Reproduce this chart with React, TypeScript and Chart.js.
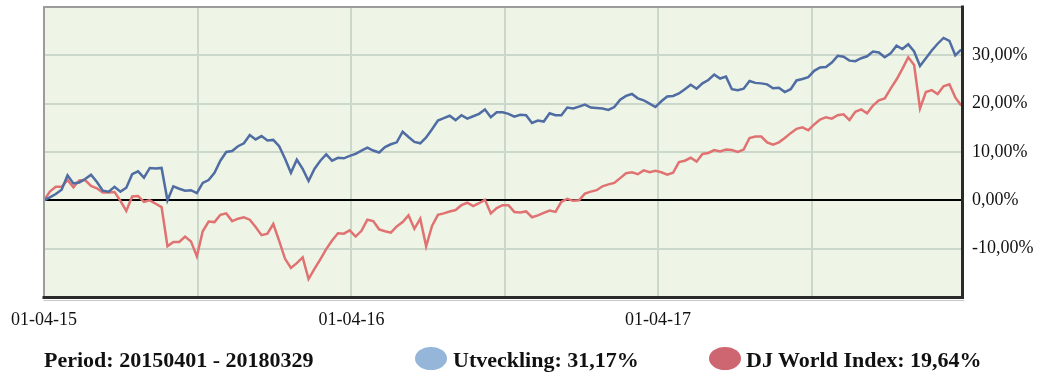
import React, { useEffect, useRef } from 'react';
import { Chart, registerables } from 'chart.js';

Chart.register(...registerables);

// ---- data ----
const END_DAY = 1093; // 2015-04-01 .. 2018-03-29
const WEEK_DAYS = 7;
const gridDays = [0, 183, 366, 549, 731, 914];
const xTickLabels: Record<number, string> = { 0: '01-04-15', 366: '01-04-16', 731: '01-04-17' };
const yTicks = [-20, -10, 0, 10, 20, 30, 40];
const hiddenYTicks = [-20, 40];

const utveckling = [
  0, 0.6, 1.3, 2.2, 5.2, 3.5, 3.7, 4.4, 5.3, 3.8,
  2.0, 1.8, 2.8, 1.8, 2.6, 5.4, 6.0, 4.7, 6.7, 6.6,
  6.7, 0.0, 2.9, 2.4, 2.0, 2.1, 1.5, 3.6, 4.2, 5.7,
  8.2, 10.0, 10.2, 11.2, 11.8, 13.5, 12.6, 13.3, 12.4, 12.5,
  11.2, 8.6, 5.7, 8.4, 6.5, 4.0, 6.5, 8.2, 9.5, 8.2,
  8.8, 8.7, 9.2, 9.6, 10.3, 10.9, 10.3, 9.9, 11.0, 11.6,
  12.0, 14.2, 13.1, 12.1, 11.8, 13.0, 14.7, 16.5, 17.0, 17.5,
  16.6, 17.6, 16.9, 17.4, 17.9, 18.8, 17.2, 18.2, 18.2, 17.9,
  17.3, 17.7, 17.6, 16.0, 16.5, 16.3, 18.0, 17.6, 17.6, 19.2,
  19.0, 19.4, 19.8, 19.2, 19.1, 19.0, 18.7, 19.3, 20.8, 21.6,
  22.0, 21.1, 20.7, 20.0, 19.3, 20.5, 21.5, 21.6, 22.1, 23.0,
  23.9, 23.1, 24.2, 24.9, 26.0, 25.2, 25.6, 23.0, 22.8, 23.1,
  24.7, 24.3, 24.2, 24.0, 23.2, 23.3, 22.4, 23.0, 24.8, 25.1,
  25.5, 26.8, 27.5, 27.6, 28.5, 29.9, 29.7, 28.9, 28.8, 29.4,
  29.8, 30.8, 30.6, 29.6, 30.4, 32.0, 31.3, 32.3, 30.8, 27.8,
  29.4, 31.0, 32.4, 33.6, 33.0, 30.0, 31.17,
];

const djWorld = [
  0, 1.8, 2.8, 2.8, 4.2, 2.7, 4.1, 4.2, 3.0, 2.5,
  1.6, 1.6, 1.7, -0.1, -2.2, 0.8, 0.9, -0.3, 0.0, -0.7,
  -1.4, -9.5, -8.6, -8.6, -7.5, -8.5, -11.6, -6.4, -4.4, -4.5,
  -3.0, -2.7, -4.3, -3.8, -3.5, -4.0, -5.5, -7.2, -6.9, -4.9,
  -8.4, -12.1, -14.0, -13.0, -11.8, -16.3, -14.2, -12.2, -10.1, -8.3,
  -6.8, -6.9, -6.2, -7.5, -6.3, -4.0, -4.3, -6.0, -6.4, -6.7,
  -5.4, -4.5, -3.1, -5.9, -3.8, -9.5, -5.3, -3.0, -2.7, -2.3,
  -2.0, -1.0, -0.5, -1.2, -0.6, 0.1, -2.7, -1.6, -1.0, -1.0,
  -2.4, -2.5, -2.3, -3.5, -3.1, -2.6, -2.1, -2.4, -0.3, 0.3,
  -0.1, 0.0, 1.4, 1.8, 2.1, 2.9, 3.3, 3.6, 4.6, 5.6,
  5.8, 5.4, 6.2, 5.8, 6.1, 5.8, 5.3, 5.7, 7.9, 8.2,
  8.8, 8.0, 9.6, 9.8, 10.4, 10.1, 10.5, 10.4, 10.0, 10.5,
  12.9, 13.2, 13.2, 12.0, 11.5, 12.0, 12.9, 13.9, 14.8, 15.1,
  14.5, 15.7, 16.7, 17.2, 16.9, 17.6, 17.8, 16.6, 18.3, 18.8,
  18.0, 19.6, 20.7, 21.1, 23.1, 25.0, 27.2, 29.6, 28.0, 19.0,
  22.4, 22.8, 22.0, 23.6, 24.0, 21.3, 19.64,
];

const periodText = 'Period: 20150401 - 20180329';
const seriesNames = ['Utveckling: 31,17%', 'DJ World Index: 19,64%'];
const lineColors = ['#4f6ca3', '#e07272'];
const legendColors = ['#95b5d9', '#cd6670'];

const FONT = '"Liberation Serif", "Times New Roman", serif';

const framePlugin = {
  id: 'frame',
  beforeDraw(chart: any) {
    const { ctx, chartArea: a } = chart;
    ctx.save();
    ctx.fillStyle = '#eef5e6';
    ctx.fillRect(a.left, a.top, a.right - a.left, a.bottom - a.top);
    ctx.restore();
  },
  afterDraw(chart: any) {
    const { ctx, chartArea: a } = chart;
    ctx.save();
    ctx.lineCap = 'square';
    ctx.strokeStyle = '#9c9c9c';
    ctx.lineWidth = 2;
    ctx.beginPath();
    ctx.moveTo(a.left, a.bottom);
    ctx.lineTo(a.left, a.top);
    ctx.lineTo(a.right, a.top);
    ctx.stroke();
    ctx.strokeStyle = '#c8c8c8';
    ctx.lineWidth = 1;
    ctx.beginPath();
    ctx.moveTo(a.left, a.bottom + 3.5);
    ctx.lineTo(a.right + 2, a.bottom + 3.5);
    ctx.stroke();
    ctx.strokeStyle = '#2a2a2a';
    ctx.lineWidth = 3;
    ctx.beginPath();
    ctx.moveTo(a.left, a.bottom + 0.5);
    ctx.lineTo(a.right + 0.5, a.bottom + 0.5);
    ctx.lineTo(a.right + 0.5, a.top);
    ctx.stroke();
    ctx.restore();
  },
};

export default function App() {
  const canvasRef = useRef<HTMLCanvasElement | null>(null);

  useEffect(() => {
    document.body.style.margin = '0';
    const canvas = canvasRef.current;
    if (!canvas) return;
    const chart = new Chart(canvas, {
      type: 'line',
      data: {
        datasets: [
          {
            label: seriesNames[0],
            data: utveckling.map((v, i) => ({ x: i * WEEK_DAYS, y: v })),
            borderColor: lineColors[0],
            borderWidth: 2.5,
            pointRadius: 0,
            tension: 0,
            fill: false,
          },
          {
            label: seriesNames[1],
            data: djWorld.map((v, i) => ({ x: i * WEEK_DAYS, y: v })),
            borderColor: lineColors[1],
            borderWidth: 2.5,
            pointRadius: 0,
            tension: 0,
            fill: false,
          },
        ],
      },
      options: {
        animation: false,
        responsive: false,
        maintainAspectRatio: false,
        layout: { padding: { left: 44, top: 7, right: 0, bottom: 0 } },
        plugins: { legend: { display: false }, tooltip: { enabled: false } },
        scales: {
          x: {
            type: 'linear',
            min: 0,
            max: END_DAY,
            afterBuildTicks: (s: any) => {
              s.ticks = gridDays.map((v) => ({ value: v }));
            },
            afterFit: (s: any) => {
              s.height = 83;
              s.paddingLeft = 0;
              s.paddingRight = 0;
            },
            grid: { color: '#cbd7cb', lineWidth: 2, drawTicks: false },
            border: { display: false },
            ticks: {
              autoSkip: false,
              maxRotation: 0,
              padding: 12,
              color: '#111',
              font: { family: FONT, size: 18 },
              callback: (v: any) => xTickLabels[v as number] ?? '',
            },
          },
          y: {
            position: 'right',
            min: -20,
            max: 40,
            afterBuildTicks: (s: any) => {
              s.ticks = yTicks.map((v) => ({ value: v }));
            },
            afterFit: (s: any) => {
              s.width = 77;
              s.paddingTop = 0;
              s.paddingBottom = 0;
            },
            grid: {
              color: (c: any) => (c.tick && c.tick.value === 0 ? '#000000' : '#cbd7cb'),
              lineWidth: 2,
              drawTicks: false,
            },
            border: { display: false },
            ticks: {
              padding: 10,
              color: '#111',
              font: { family: FONT, size: 18 },
              callback: (v: any) =>
                hiddenYTicks.includes(v as number)
                  ? null
                  : (v as number).toFixed(2).replace('.', ',') + '%',
            },
          },
        },
      },
      plugins: [framePlugin],
    });
    return () => chart.destroy();
  }, []);

  const textStyle: React.CSSProperties = {
    position: 'absolute',
    top: 347,
    fontFamily: FONT,
    fontWeight: 'bold',
    fontSize: 22,
    lineHeight: '26px',
    color: '#111',
    whiteSpace: 'nowrap',
  };
  const dot = (left: number, color: string): React.CSSProperties => ({
    position: 'absolute',
    left,
    top: 347,
    width: 32,
    height: 23,
    borderRadius: '50%',
    background: color,
  });

  return (
    <div style={{ position: 'relative', width: 1039, height: 380, background: '#fff' }}>
      <canvas ref={canvasRef} width={1039} height={380} style={{ display: 'block' }} />
      <div style={{ ...textStyle, left: 44 }}>{periodText}</div>
      <div style={dot(415, legendColors[0])} />
      <div style={{ ...textStyle, left: 453 }}>{seriesNames[0]}</div>
      <div style={dot(709, legendColors[1])} />
      <div style={{ ...textStyle, left: 746 }}>{seriesNames[1]}</div>
    </div>
  );
}
